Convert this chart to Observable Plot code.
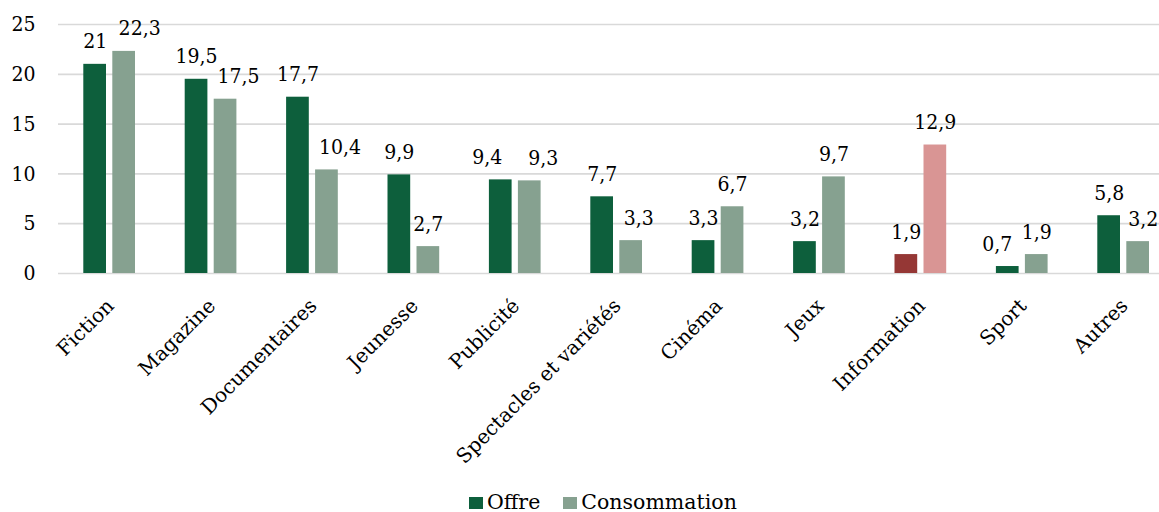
<!DOCTYPE html>
<html>
<head>
<meta charset="utf-8">
<script src="https://cdn.jsdelivr.net/npm/d3@7"></script>
<script src="https://cdn.jsdelivr.net/npm/@observablehq/plot@0.6"></script>
<style>
  body { margin: 0; background: #fff; }
  #wrap { position: relative; width: 1159px; height: 512px; font-family: "DejaVu Serif", serif; }
  #legend { position: absolute; top: 491px; left: 469px; display: flex; align-items: center; font-size: 20.5px; line-height: 23px; color: #000; }
  .sw { display: inline-block; width: 14px; height: 12px; margin-right: 4px; }
  svg text { font-stretch: condensed; }
  svg g[aria-label="x-axis tick label"] text { font-stretch: normal; }
</style>
</head>
<body>
<div id="wrap"><div id="chart"></div>
<div id="legend"><span class="sw" style="background:#0d5f3c"></span><span>Offre</span><span class="sw" style="background:#86a190;margin-left:23px"></span><span>Consommation</span></div>
</div>
<script>
const categories = ["Fiction", "Magazine", "Documentaires", "Jeunesse", "Publicité", "Spectacles et variétés", "Cinéma", "Jeux", "Information", "Sport", "Autres"];
const offre = [21, 19.5, 17.7, 9.9, 9.4, 7.7, 3.3, 3.2, 1.9, 0.7, 5.8];
const consommation = [22.3, 17.5, 10.4, 2.7, 9.3, 3.3, 6.7, 9.7, 12.9, 1.9, 3.2];
const yTicks = [0, 5, 10, 15, 20, 25];
const highlight = "Information";

// styling: colours and label nudges (px) to avoid overlapping value labels
const C = {offre: "#0d5f3c", cons: "#86a190", offreH: "#953735", consH: "#d99594"};
const nudgeO = [0, 0, 0, 0, -13.5, 0, 0, 0, 0, -10.5, 0];
const nudgeC = [15.5, 13, 13, 0, 13.5, 7.5, 0, 0, 0, 0, 5];
const fmt = v => String(v).replace(".", ",");

const rowsO = categories.map((c, i) => ({cat: c, v: offre[i], fill: c === highlight ? C.offreH : C.offre, n: nudgeO[i]}));
const rowsC = categories.map((c, i) => ({cat: c, v: consommation[i], fill: c === highlight ? C.consH : C.cons, n: nudgeC[i]}));

const FS = 21;
const W = 22.7, insO = 24.9, insC = 53.9, step = 101.4;
const labelMarks = [
  ...rowsO.map(r => Plot.text([r], {x: "cat", y: "v", text: d => fmt(d.v), dx: insO + W / 2 - step / 2 + r.n, dy: -16, lineAnchor: "bottom", fontSize: FS, fill: "#000"})),
  ...rowsC.map(r => Plot.text([r], {x: "cat", y: "v", text: d => fmt(d.v), dx: insC + W / 2 - step / 2 + r.n, dy: -16, lineAnchor: "bottom", fontSize: FS, fill: "#000"}))
];

const chart = Plot.plot({
  width: 1159,
  height: 488,
  marginLeft: 58,
  marginRight: 0,
  marginTop: 24,
  marginBottom: 215,
  style: {fontFamily: "'DejaVu Serif', serif", fontSize: FS + "px", color: "#000", background: "#fff"},
  x: {domain: categories, range: [58.4, 58.4 + step * categories.length], padding: 0, round: false, label: null},
  y: {domain: [0, 25], ticks: yTicks, label: null},
  color: {type: "identity"},
  marks: [
    Plot.ruleY(yTicks, {stroke: "#d9d9d9", strokeWidth: 1.7}),
    Plot.axisY({ticks: yTicks, tickSize: 0, tickPadding: 23, fontSize: FS, label: null}),
    Plot.axisX({tickSize: 0, tickPadding: 29, tickRotate: -45, fontSize: 20, dx: 1, label: null}),
    Plot.barY(rowsO, {x: "cat", y: "v", fill: "fill", insetLeft: insO, insetRight: step - insO - W}),
    Plot.barY(rowsC, {x: "cat", y: "v", fill: "fill", insetLeft: insC, insetRight: step - insC - W}),
    ...labelMarks
  ]
});
document.getElementById("chart").appendChild(chart);
</script>
</body>
</html>
